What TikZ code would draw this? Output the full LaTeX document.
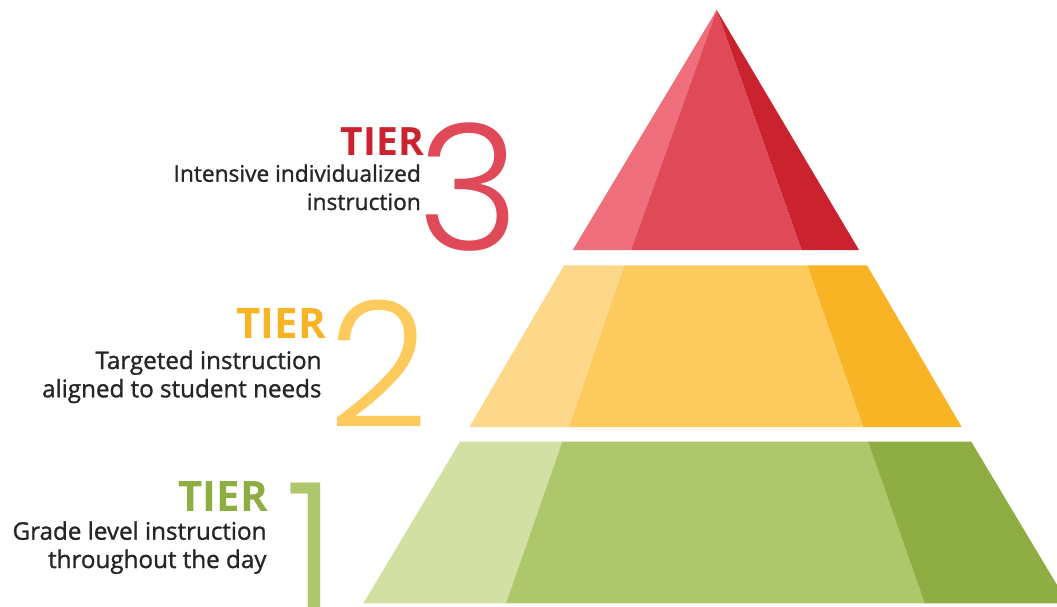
\documentclass[tikz,border=0pt]{standalone}
\usepackage{fontspec}
\setmainfont{Open Sans}
\newfontfamily\infofont{Open Sans}[FakeBold=1.2]
\newfontfamily\numfont{Poppins}[UprightFont=* Light]
\usepackage{tikz}
\definecolor{redlight}{HTML}{EF6F7C}
\definecolor{redmid}{HTML}{E04A58}
\definecolor{reddark}{HTML}{CB2230}
\definecolor{orlight}{HTML}{FDD88A}
\definecolor{ormid}{HTML}{FDCB5D}
\definecolor{ordark}{HTML}{F8B424}
\definecolor{grlight}{HTML}{D2E0A3}
\definecolor{grmid}{HTML}{AFC76B}
\definecolor{grdark}{HTML}{8EAD42}
\definecolor{textgray}{HTML}{262626}

\begin{document}
\begin{tikzpicture}[x=1pt, y=-1pt,
	tier/.style={font=\bfseries\fontsize{#1}{#1}\selectfont, anchor=base east, inner sep=0pt},
	info/.style={font=\infofont\fontsize{#1}{28.3}\selectfont, align=right, anchor=base east, inner sep=0pt, text=textgray},
	bignum/.style={font=\numfont\fontsize{175}{175}\selectfont, anchor=base, inner sep=0pt}]
	\useasboundingbox (0,0) rectangle (1057,606);
	\clip (0,0) rectangle (1057,606);

	\fill[redlight] (716.7,10) -- (572.7,250) -- (631,250) -- cycle;
	\fill[redmid] (716.7,10) -- (631,250) -- (801.7,250) -- cycle;
	\fill[reddark] (716.7,10) -- (801.7,250) -- (859,250) -- cycle;

	\fill[orlight] (564,265.3) -- (469.3,427) -- (569,427) -- (624.3,265.3) -- cycle;
	\fill[ormid] (624.3,265.3) -- (569,427) -- (863.3,427) -- (807.3,265.3) -- cycle;
	\fill[ordark] (807.3,265.3) -- (863.3,427) -- (961.7,427) -- (867,265.3) -- cycle;

	\fill[grlight] (460,441.7) -- (363.3,603.3) -- (506,603.3) -- (562.3,441.7) -- cycle;
	\fill[grmid] (562.3,441.7) -- (506,603.3) -- (924.7,603.3) -- (868,441.7) -- cycle;
	\fill[grdark] (868,441.7) -- (924.7,603.3) -- (1068,603.3) -- (971.3,441.7) -- cycle;

	\node[bignum, text=redmid] (numthree) at (468.5,250) {3};
	\node[bignum, text=ormid] (numtwo) at (378.5,427) {2};
	\node[bignum, text=grmid] (numone) at (311,608) {1};

	\node[tier=39, text=reddark] (tierthree) at (424,155) {TIER};
	\node[info=22.7] (infothree) at (421,210) {Intensive individualized\\instruction};
	\node[tier=42, text=ordark] (tiertwo) at (326,338.3) {TIER};
	\node[info=24.2] (infotwo) at (321.7,397.3) {Targeted instruction\\aligned to student needs};
	\node[tier=42, text=grdark] (tierone) at (268,511.7) {TIER};
	\node[info=24.2] (infoone) at (266.7,568) {Grade level instruction\\throughout the day};
\end{tikzpicture}
\end{document}
